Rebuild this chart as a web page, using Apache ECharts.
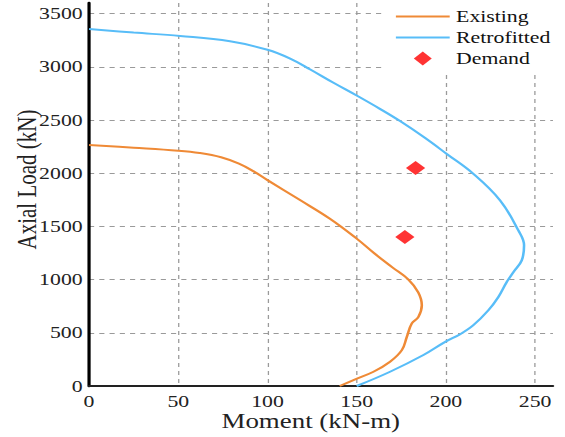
<!DOCTYPE html>
<html>
<head>
<meta charset="utf-8">
<title>Axial load - moment interaction</title>
<script src="https://cdn.jsdelivr.net/npm/echarts@6/dist/echarts.min.js"></script>
<style>
  html, body { margin: 0; padding: 0; background: #ffffff; overflow: hidden; }
  #wrap { width: 565px; height: 437px; overflow: hidden; }
  /* the chart is laid out narrower and widened horizontally */
  #chart { width: 441px; height: 437px; transform: scaleX(1.2812); transform-origin: 0 0; }
</style>
</head>
<body>
<div id="wrap"><div id="chart"></div></div>
<script>
// Interaction diagram: existing column vs. retrofitted column, plus demand points
const seriesNames = ['Existing', 'Retrofitted', 'Demand'];

const existingMoment = [0, 25, 50, 62, 74, 84, 92, 100, 118, 135, 150, 160, 170, 179, 184.5, 186.5, 184.6, 180.9, 178.1, 175.3, 168.7, 159.4, 148.2, 140.5];
const existingAxial  = [2265, 2240, 2212, 2190, 2150, 2090, 2020, 1935, 1750, 1572, 1385, 1245, 1115, 1000, 880, 759, 650, 588, 462, 337, 228, 134, 56, 0];

const retrofitMoment = [0, 25, 51, 79, 100, 113, 124, 137, 150, 163, 174.3, 188, 200.5, 215.4, 230.4, 240.6, 243.8, 242.5, 237.9, 234.1, 229.4, 223.8, 215.4, 208, 199.6, 187.4, 168.7, 150];
const retrofitAxial  = [3355, 3322, 3290, 3240, 3160, 3075, 2975, 2850, 2730, 2605, 2490, 2335, 2181, 1994, 1744, 1462, 1322, 1181, 1072, 978, 837, 712, 572, 487, 415, 291, 134, 0];

const demandMoment = [183, 177];
const demandAxial  = [2050, 1400];

const xTicks = [0, 50, 100, 150, 200, 250];
const yTicks = [0, 500, 1000, 1500, 2000, 2500, 3000, 3500];

const pairs = (xs, ys) => xs.map((x, i) => [x, ys[i]]);

const FONT = '"Liberation Serif", "Times New Roman", serif';
const gridLine = { show: true, showMinLine: false, showMaxLine: false,
  lineStyle: { color: '#9a9a9a', width: 1, type: [4, 4] } };

const chart = echarts.init(document.getElementById('chart'), null, { renderer: 'svg' });
chart.setOption({
  animation: false,
  backgroundColor: '#ffffff',
  grid: { left: 69.5, right: 9.4, top: 3, bottom: 51, containLabel: false, outerBoundsMode: 'none' },
  legend: {
    orient: 'vertical',
    left: 300, top: 0,
    padding: [8, 8, 5, 8],
    backgroundColor: '#ffffff',
    itemWidth: 42, itemHeight: 14, itemGap: 4,
    symbolKeepAspect: true,
    textStyle: { fontFamily: FONT, fontSize: 17, color: '#111' },
    data: [
      { name: seriesNames[0], itemStyle: { opacity: 0 } },
      { name: seriesNames[1], itemStyle: { opacity: 0 } },
      { name: seriesNames[2], icon: 'path://M7,0L14,7L7,14L0,7Z' }
    ]
  },
  xAxis: {
    type: 'value', min: 0, max: 260, interval: 50,
    name: 'Moment (kN-m)', nameLocation: 'middle', nameGap: 25, nameMoveOverlap: false,
    nameTextStyle: { fontFamily: FONT, fontSize: 21, lineHeight: 19, color: '#222', padding: [0, 16, 0, 0] },
    axisLine: { show: true, onZero: false, lineStyle: { color: '#222', width: 2 } },
    axisTick: { show: false },
    axisLabel: { fontFamily: FONT, fontSize: 17, lineHeight: 16, color: '#222', margin: 7, showMaxLabel: false,
      formatter: v => (xTicks.includes(v) ? String(v) : '') },
    splitLine: gridLine
  },
  yAxis: {
    type: 'value', min: 0, max: 3600, interval: 500,
    name: 'Axial Load (kN)', nameLocation: 'middle', nameGap: 38, nameMoveOverlap: false,
    nameTextStyle: { fontFamily: FONT, fontSize: 21, color: '#222', padding: [0, 0, 0, 30] },
    axisLine: { show: true, onZero: false, lineStyle: { color: '#000', width: 2.5 } },
    axisTick: { show: false },
    axisLabel: { fontFamily: FONT, fontSize: 17, color: '#222', margin: 5, showMaxLabel: false,
      formatter: v => (yTicks.includes(v) ? String(v) : '') },
    splitLine: gridLine
  },
  series: [
    {
      name: seriesNames[0], type: 'line', smooth: 0.4, symbol: 'none',
      data: pairs(existingMoment, existingAxial),
      itemStyle: { color: '#EF8A36' },
      lineStyle: { color: '#EF8A36', width: 2 }
    },
    {
      name: seriesNames[1], type: 'line', smooth: 0.4, symbol: 'none',
      data: pairs(retrofitMoment, retrofitAxial),
      itemStyle: { color: '#58BDF8' },
      lineStyle: { color: '#58BDF8', width: 2 }
    },
    {
      name: seriesNames[2], type: 'scatter', symbol: 'diamond', symbolSize: [15, 14],
      symbolKeepAspect: true,
      data: pairs(demandMoment, demandAxial),
      itemStyle: { color: '#FF0000' }
    }
  ]
});
</script>
</body>
</html>
